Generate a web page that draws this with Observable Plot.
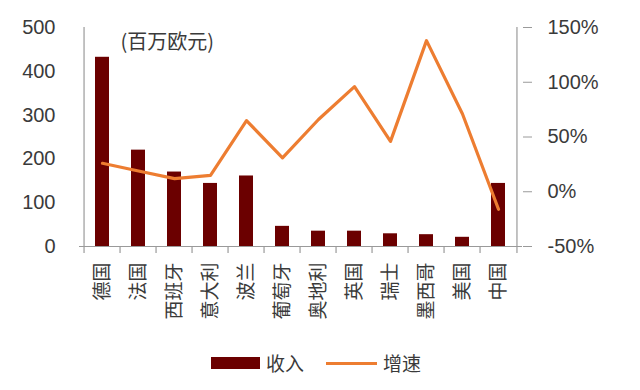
<!DOCTYPE html>
<html><head><meta charset="utf-8">
<script src="https://cdn.jsdelivr.net/npm/d3@7"></script>
<script src="https://cdn.jsdelivr.net/npm/@observablehq/plot@0.6"></script>
<style>
body{margin:0;background:#fff;font-family:"Noto Sans CJK SC","Noto Sans",sans-serif;color:#3a3a3a;}
#wrap{position:relative;width:640px;height:390px;}
.leg{position:absolute;font-size:19px;line-height:22px;}
</style></head>
<body><div id="wrap"></div>
<script>
const categories = ["德国","法国","西班牙","意大利","波兰","葡萄牙","奥地利","英国","瑞士","墨西哥","美国","中国"];
const revenue = [432, 220, 170, 144, 161, 46, 35, 35, 29, 27, 21, 144];
const growth = [26, 19, 12, 15, 65, 31, 66, 96, 46, 138, 71, -16];
const leftTicks = [0, 100, 200, 300, 400, 500];
const rightTicks = [-50, 0, 50, 100, 150];
const unitLabel = "(百万欧元)";
const seriesNames = ["收入", "增速"];

const barColor = "#6B0000", lineColor = "#ED7D31", axisColor = "#9a9a9a";
const numFont = '"Liberation Sans","Noto Sans",sans-serif';
const toLeft = p => (p + 50) * 2.5;
const rows = categories.map((c, i) => ({c, rev: revenue[i], g: toLeft(growth[i])}));
const W = 640, H = 340, mL = 79, mR = 118, mT = 27, mB = 94;
const half = (W - mL - mR) / categories.length / 2;

const chart = Plot.plot({
  width: W, height: H, marginLeft: mL, marginRight: mR, marginTop: mT, marginBottom: mB,
  style: {fontFamily: '"Noto Sans CJK SC","Noto Sans",sans-serif', color: "#3a3a3a", background: "#fff"},
  x: {domain: categories, paddingInner: 0.61, paddingOuter: 0.305, align: 0.5},
  y: {domain: [0, 500]},
  marks: [
    Plot.barY(rows, {x: "c", y: "rev", fill: barColor}),
    Plot.line(rows, {x: "c", y: "g", stroke: lineColor, strokeWidth: 3.2}),
    Plot.ruleY([0], {stroke: axisColor, strokeWidth: 1.2}),
    Plot.ruleX(categories, {x: d => d, dx: -half, y1: 0, y2: -16, stroke: axisColor, strokeWidth: 1.2}),
    Plot.ruleX([categories[0]], {x: d => d, dx: -half, y1: 0, y2: 500, stroke: axisColor, strokeWidth: 1.2}),
    Plot.ruleX([categories[categories.length-1]], {x: d => d, dx: half, y1: -16, y2: 500, stroke: axisColor, strokeWidth: 1.2}),
    Plot.axisY({anchor: "left", ticks: leftTicks, tickSize: 0, tickPadding: 24, fontSize: 20, fontFamily: numFont, label: null}),
    Plot.axisY({anchor: "right", ticks: rightTicks.map(toLeft), tickFormat: d => (d / 2.5 - 50) + "%",
      tickSize: 9, tickPadding: 16, fontSize: 20, fontFamily: numFont, stroke: axisColor, label: null}),
    Plot.axisX({tickSize: 0, tickPadding: 16, fontSize: 19, tickRotate: -90, label: null}),
    Plot.text([unitLabel], {frameAnchor: "top-left", dx: 41, dy: 15, fontSize: 20, textAnchor: "start", lineAnchor: "middle", fill: "#3a3a3a"})
  ]
});
chart.style.position = "absolute"; chart.style.left = "0"; chart.style.top = "0";
const wrap = document.getElementById("wrap");
wrap.appendChild(chart);

function add(html, css){ const d = document.createElement("div"); d.className = "leg"; Object.assign(d.style, css); d.innerHTML = html; wrap.appendChild(d); }
add("", {left: "211px", top: "357px", width: "49px", height: "12px", background: barColor});
add(seriesNames[0], {left: "266px", top: "352px"});
add("", {left: "326px", top: "362px", width: "51px", height: "3px", background: lineColor});
add(seriesNames[1], {left: "383px", top: "352px"});
</script></body></html>
